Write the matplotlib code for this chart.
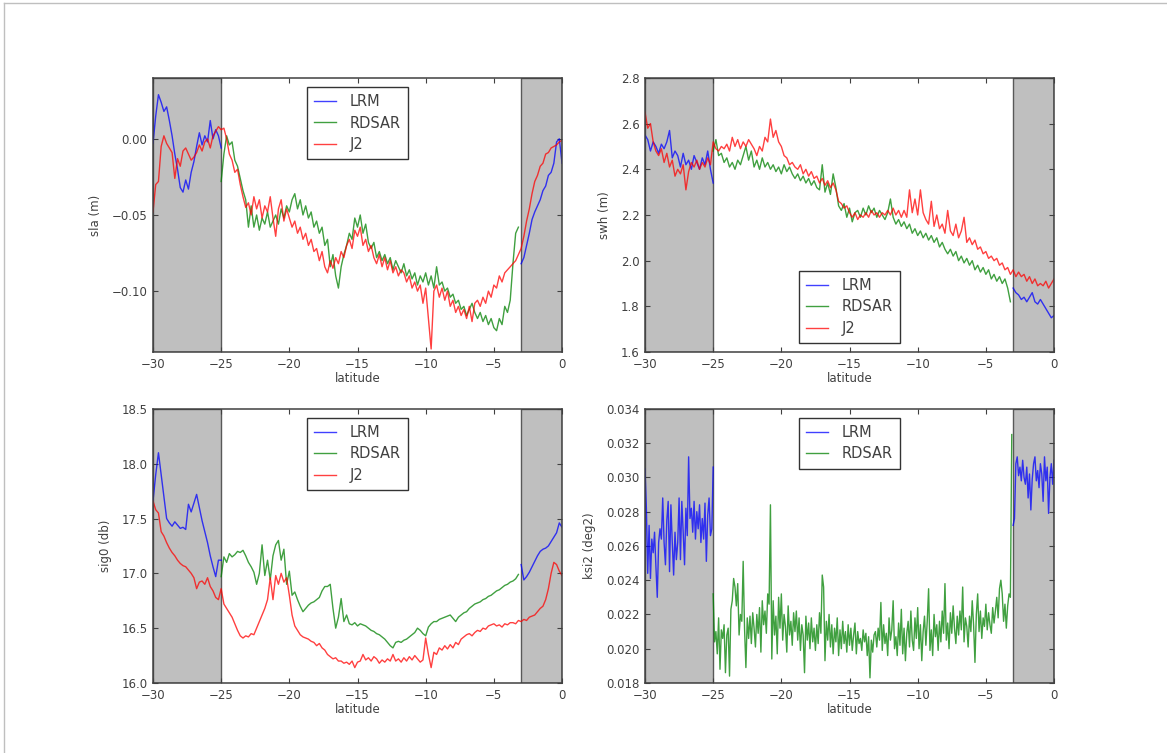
import numpy as np
import matplotlib.pyplot as plt
from matplotlib.lines import Line2D

# --- sla (mm), 0.2 deg steps ---
sla_lrm_left = [-3, 15, 29, 24, 18, 21, 12, 2, -10, -20, -32, -35, -27, -33, -22, -15,
                -5, 4, -4, 2, -2, 12, 0, 6, 2, -6]
sla_rdsar = [-28, -10, 2, -4, -2, -14, -18, -26, -34, -40,
             -58, -44, -58, -50, -60, -52, -56, -48, -58, -54,
             -50, -56, -46, -52, -44, -48, -40, -36, -46, -40,
             -50, -44, -52, -48, -58, -54, -62, -58, -70, -66,
             -84, -76, -90, -98, -84, -76, -70, -62, -66, -52,
             -58, -50, -62, -56, -68, -72, -68, -78, -74, -80,
             -76, -82, -78, -86, -80, -84, -88, -82, -90, -86,
             -92, -88, -96, -90, -94, -88, -96, -90, -98, -84,
             -96, -94, -100, -98, -104, -102, -108, -106, -112, -110,
             -116, -112, -108, -114, -118, -114, -120, -116, -122, -118,
             -124, -126, -118, -122, -110, -114, -106, -82, -62, -58]
sla_lrm_right = [-82, -78, -70, -62, -53, -48, -44, -40, -34, -31, -24, -22, -16, -2, 0, -16]
sla_j2 = [-48, -30, -28, -5, 2, -3, -6, -9, -26, -13,
          -18, -8, -6, -10, -14, -12, -9, -4, -8, -2,
          0, -6, 2, 5, 8, 6, 7, 0, -10, -14,
          -22, -20, -30, -38, -45, -42, -50, -38, -46, -40,
          -52, -44, -48, -38, -52, -64, -46, -40, -54, -46,
          -52, -58, -54, -62, -58, -66, -62, -70, -66, -74,
          -72, -80, -74, -84, -88, -80, -85, -78, -82, -74,
          -78, -70, -66, -72, -60, -64, -58, -70, -66, -74,
          -70, -78, -82, -76, -84, -78, -86, -80, -88, -84,
          -90, -86, -88, -94, -90, -98, -94, -100, -96, -108,
          -98, -118, -138, -100, -96, -104, -98, -106, -100, -110,
          -106, -114, -110, -116, -112, -118, -110, -120, -108, -106,
          -110, -104, -108, -100, -104, -96, -98, -90, -94, -88,
          -86, -84, -82, -80, -76, -72, -64, -54, -46, -36,
          -28, -24, -18, -16, -10, -9, -6, -5, -4, -2,
          -1]

# --- swh (cm), 0.2 deg steps ---
swh_lrm_left = [255, 253, 248, 252, 250, 247, 251, 249, 252, 257, 245, 248, 246, 241, 247, 242,
                244, 240, 246, 243, 240, 245, 242, 248, 240, 234]
swh_rdsar = [248, 253, 246, 247, 243, 245, 241, 243, 240, 244,
             242, 246, 250, 244, 248, 241, 244, 240, 245, 241,
             243, 240, 242, 239, 241, 238, 242, 239, 241, 238,
             236, 238, 235, 237, 234, 236, 233, 235, 232, 231,
             242, 230, 234, 229, 238, 232, 224, 222, 225, 219,
             223, 217, 221, 222, 219, 223, 220, 224, 221, 223,
             219, 222, 220, 218, 221, 227, 219, 216, 218, 215,
             217, 214, 216, 212, 214, 211, 213, 210, 212, 209,
             211, 208, 210, 206, 208, 205, 203, 205, 202, 204,
             200, 202, 199, 201, 198, 200, 196, 198, 195, 197,
             194, 196, 192, 194, 191, 193, 190, 192, 188, 182]
swh_lrm_right = [188, 186, 185, 183, 184, 182, 184, 186, 182, 181, 183, 181, 179, 177, 175, 176]
swh_j2 = [265, 258, 260, 252, 248, 246, 249, 243, 247, 241,
          244, 237, 240, 238, 242, 231, 239, 243, 241, 244,
          240, 243, 241, 245, 242, 252, 249, 248, 250, 249,
          251, 248, 254, 250, 253, 249, 252, 250, 253, 251,
          249, 246, 250, 248, 254, 252, 262, 254, 257, 252,
          250, 246, 245, 242, 243, 241, 240, 242, 238, 240,
          237, 239, 236, 237, 234, 236, 233, 235, 232, 234,
          231, 226, 225, 223, 224, 221, 219, 221, 218, 220,
          219, 221, 219, 222, 220, 221, 219, 221, 220, 222,
          220, 223, 220, 222, 219, 222, 219, 231, 221, 227,
          220, 231, 221, 218, 216, 226, 215, 220, 214, 216,
          212, 222, 213, 211, 216, 210, 213, 219, 208, 210,
          207, 209, 205, 206, 203, 204, 201, 202, 200, 201,
          198, 199, 196, 197, 194, 196, 193, 195, 193, 194,
          191, 193, 190, 192, 189, 190, 189, 191, 188, 190,
          192]

# --- sig0 (cdB), 0.2 deg steps ---
sig0_lrm_left = [1766, 1790, 1810, 1790, 1770, 1750, 1746, 1743, 1747, 1744, 1741, 1742, 1740,
                 1763, 1756, 1764, 1772, 1760, 1748, 1738, 1728, 1716, 1706, 1697, 1712, 1712]
sig0_rdsar = [1697, 1715, 1710, 1718, 1715, 1717, 1720, 1719, 1721, 1716,
              1710, 1706, 1701, 1690, 1700, 1726, 1698, 1712, 1694, 1716,
              1726, 1730, 1712, 1722, 1690, 1702, 1680, 1683, 1676, 1670,
              1665, 1668, 1671, 1673, 1674, 1676, 1678, 1684, 1688, 1688,
              1690, 1668, 1650, 1660, 1677, 1656, 1662, 1654, 1653, 1655,
              1652, 1654, 1653, 1652, 1650, 1648, 1647, 1645, 1644, 1642,
              1640, 1637, 1634, 1632, 1637, 1638, 1637, 1639, 1640, 1642,
              1644, 1646, 1650, 1648, 1645, 1643, 1651, 1654, 1656, 1656,
              1658, 1659, 1660, 1661, 1662, 1659, 1656, 1660, 1662, 1664,
              1665, 1668, 1670, 1672, 1673, 1674, 1676, 1677, 1679, 1680,
              1682, 1684, 1685, 1687, 1689, 1690, 1692, 1693, 1695, 1699]
sig0_lrm_right = [1708, 1694, 1697, 1701, 1706, 1711, 1716, 1720, 1722, 1723, 1725, 1729, 1733,
                  1737, 1746, 1742]
sig0_j2 = [1766, 1758, 1755, 1738, 1734, 1728, 1723, 1719, 1716, 1712,
           1709, 1707, 1706, 1703, 1700, 1696, 1686, 1692, 1693, 1690,
           1696, 1688, 1684, 1678, 1676, 1686, 1672, 1668, 1664, 1660,
           1654, 1648, 1643, 1641, 1643, 1642, 1645, 1644, 1650, 1656,
           1662, 1668, 1676, 1696, 1676, 1698, 1690, 1700, 1692, 1696,
           1680, 1662, 1652, 1648, 1644, 1642, 1641, 1640, 1638, 1637,
           1634, 1636, 1632, 1630, 1626, 1624, 1622, 1623, 1620, 1620,
           1618, 1619, 1617, 1620, 1614, 1619, 1620, 1626, 1621, 1623,
           1620, 1624, 1622, 1618, 1621, 1619, 1622, 1620, 1626, 1620,
           1622, 1619, 1623, 1620, 1624, 1621, 1625, 1622, 1619, 1621,
           1641, 1626, 1614, 1628, 1626, 1632, 1630, 1634, 1631, 1635,
           1632, 1637, 1635, 1640, 1642, 1644, 1645, 1643, 1646, 1648,
           1647, 1650, 1649, 1652, 1653, 1654, 1652, 1653, 1651, 1654,
           1653, 1655, 1655, 1654, 1657, 1656, 1658, 1657, 1660, 1661,
           1662, 1665, 1668, 1670, 1676, 1686, 1700, 1710, 1708, 1702,
           1698]

# --- ksi2 (1e-4 deg2), 0.1 deg steps ---
ksi2_lrm_left = [305, 282, 244, 272, 241, 264, 256, 268, 248, 230,
                 262, 270, 264, 288, 262, 249, 275, 286, 245, 284,
                 262, 243, 268, 252, 262, 288, 252, 286, 268, 249,
                 282, 266, 312, 276, 282, 268, 286, 264, 280, 270,
                 284, 262, 276, 264, 285, 251, 278, 288, 266, 270,
                 306]
ksi2_rdsar = [232, 204, 210, 197, 218, 188, 211, 206, 214, 186,
              208, 212, 184, 223, 228, 241, 236, 225, 238, 208,
              220, 216, 251, 212, 189, 218, 206, 219, 203, 221,
              212, 201, 220, 209, 224, 198, 228, 214, 222, 209,
              232, 226, 284, 194, 228, 208, 219, 197, 230, 212,
              232, 205, 220, 213, 198, 225, 208, 216, 202, 221,
              210, 222, 205, 218, 199, 214, 208, 186, 219, 205,
              215, 200, 218, 204, 212, 199, 214, 203, 221, 209,
              243, 236, 193, 216, 205, 220, 201, 214, 197, 212,
              204, 218, 196, 211, 200, 216, 203, 210, 198, 214,
              202, 212, 199, 208, 215, 197, 210, 203, 206, 199,
              211, 204, 209, 196, 207, 183, 205, 198, 208, 210,
              201, 212, 205, 227, 199, 214, 203, 209, 196, 218,
              205, 211, 228, 200, 207, 196, 215, 202, 223, 197,
              212, 193, 209, 216, 201, 222, 205, 199, 218, 206,
              224, 200, 214, 193, 210, 219, 202, 216, 235, 199,
              211, 196, 220, 207, 214, 199, 216, 204, 222, 209,
              238, 205, 215, 200, 221, 209, 225, 212, 203, 219,
              208, 222, 211, 236, 204, 218, 213, 201, 219, 210,
              228, 214, 192, 220, 232, 210, 222, 206, 218, 213,
              226, 211, 221, 214, 209, 224, 215, 222, 230, 218,
              235, 240, 232, 216, 226, 212, 225, 232, 230, 325]
ksi2_lrm_right = [272, 276, 308, 312, 301, 306, 298, 310, 300, 296,
                  306, 288, 302, 281, 299, 308, 312, 298, 304, 294,
                  308, 302, 286, 312, 298, 306, 279, 300, 308, 296, 310]

TEXT = '0.25'


def lat(vals, lo, hi):
    return np.linspace(lo, hi, len(vals))


def panel(ax, lrm_l, rdsar, lrm_r, j2, scale, rdsar_end):
    for lo, hi in [(-30, -25), (-3, 0)]:
        ax.axvspan(lo, hi, facecolor='0.75', edgecolor='0.35', lw=1.0, zorder=0)
    a = 0.75
    ax.plot(lat(lrm_l, -30, -25), np.array(lrm_l) * scale, color='b', alpha=a, lw=1, label='LRM')
    ax.plot(lat(rdsar, -25, rdsar_end), np.array(rdsar) * scale, color='g', alpha=a, lw=1, label='RDSAR')
    ax.plot(lat(lrm_r, -3, 0), np.array(lrm_r) * scale, color='b', alpha=a, lw=1)
    if j2 is not None:
        ax.plot(lat(j2, -30, 0), np.array(j2) * scale, color='r', alpha=a, lw=1, label='J2')
    ax.set_xlim(-30, 0)
    ax.set_xticks([-30, -25, -20, -15, -10, -5, 0])
    ax.set_xlabel('latitude', fontsize=8.5, color=TEXT, labelpad=1)
    ax.tick_params(direction='in', top=True, right=True, length=3.5, width=0.8,
                   labelsize=8.5, colors='0.25', labelcolor=TEXT, pad=4)
    for s in ax.spines.values():
        s.set_color('0.25')
        s.set_linewidth(1.1)


def add_legend(ax, loc):
    h, l = ax.get_legend_handles_labels()
    leg = ax.legend(h, l, loc=loc, fontsize=10.5, handlelength=1.5, handletextpad=0.9,
                    labelspacing=0.45, borderpad=0.5, borderaxespad=0.6,
                    fancybox=False, framealpha=1)
    leg.get_frame().set_edgecolor('0.2')
    leg.get_frame().set_linewidth(1.0)
    for t in leg.get_texts():
        t.set_color(TEXT)


fig = plt.figure(figsize=(11.67, 7.53), dpi=100)
w, h = 0.3505, 0.364
ax1 = fig.add_axes([0.1311, 0.5325, w, h])
ax2 = fig.add_axes([0.5527, 0.5325, w, h])
ax3 = fig.add_axes([0.1311, 0.0930, w, h])
ax4 = fig.add_axes([0.5527, 0.0930, w, h])

panel(ax1, sla_lrm_left, sla_rdsar, sla_lrm_right, sla_j2, 0.001, -3.2)
ax1.set_ylim(-0.14, 0.04)
ax1.set_yticks([-0.10, -0.05, 0.00])
ax1.set_yticklabels(['\u22120.10', '\u22120.05', '0.00'])
ax1.set_ylabel('sla (m)', fontsize=8.5, color=TEXT, labelpad=7)
add_legend(ax1, 'upper center')

panel(ax2, swh_lrm_left, swh_rdsar, swh_lrm_right, swh_j2, 0.01, -3.2)
ax2.set_ylim(1.6, 2.8)
ax2.set_yticks([1.6, 1.8, 2.0, 2.2, 2.4, 2.6, 2.8])
ax2.set_ylabel('swh (m)', fontsize=8.5, color=TEXT, labelpad=7)
add_legend(ax2, 'lower center')

panel(ax3, sig0_lrm_left, sig0_rdsar, sig0_lrm_right, sig0_j2, 0.01, -3.2)
ax3.set_ylim(16.0, 18.5)
ax3.set_yticks([16.0, 16.5, 17.0, 17.5, 18.0, 18.5])
ax3.set_ylabel('sig0 (db)', fontsize=8.5, color=TEXT, labelpad=7)
add_legend(ax3, 'upper center')

panel(ax4, ksi2_lrm_left, ksi2_rdsar, ksi2_lrm_right, None, 0.0001, -3.1)
ax4.set_ylim(0.018, 0.034)
ax4.set_yticks(np.arange(0.018, 0.0341, 0.002))
ax4.set_yticklabels(['%.3f' % v for v in np.arange(0.018, 0.0341, 0.002)])
ax4.set_ylabel('ksi2 (deg2)', fontsize=8.5, color=TEXT, labelpad=7)
add_legend(ax4, 'upper center')

# thin frame line along top and left edges of the screenshot
fig.add_artist(Line2D([0.003, 1], [0.996, 0.996], transform=fig.transFigure, color='0.75', lw=1))
fig.add_artist(Line2D([0.003, 0.003], [0, 0.996], transform=fig.transFigure, color='0.75', lw=1))

fig.savefig('out.png', dpi=100)
